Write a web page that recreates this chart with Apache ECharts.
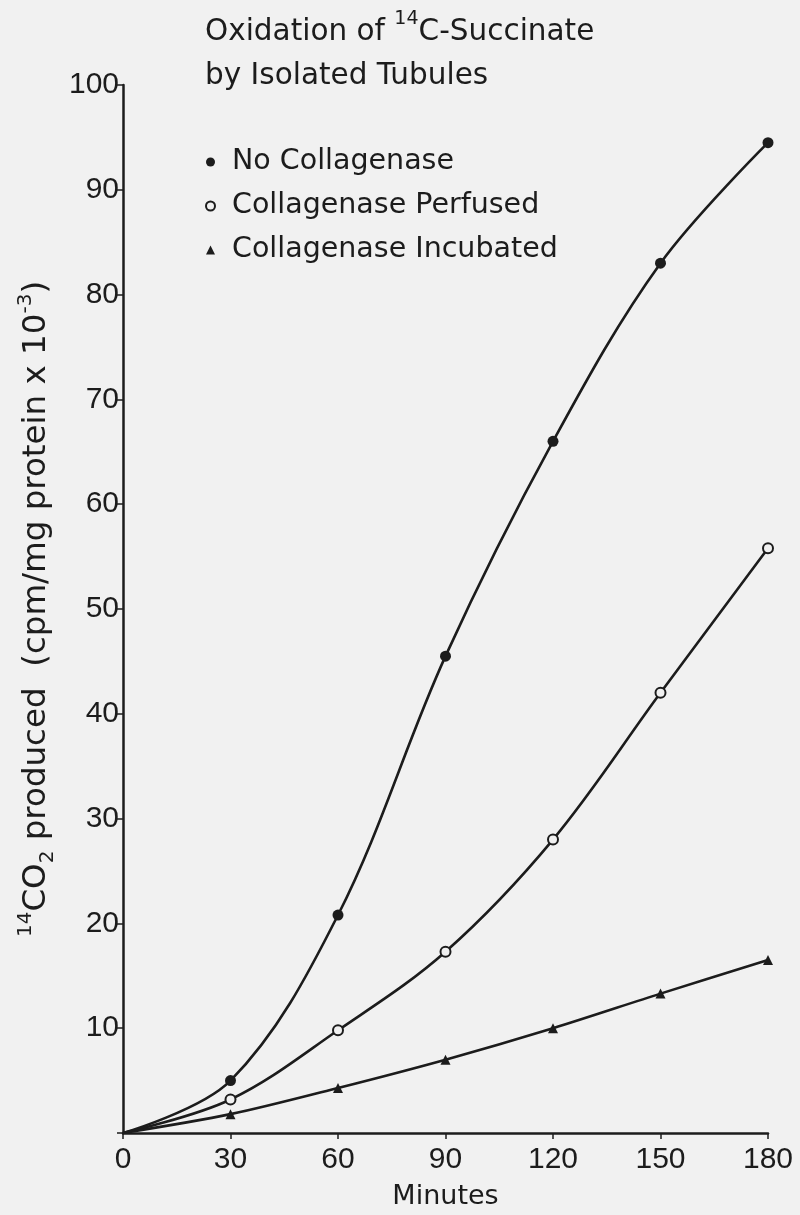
<!DOCTYPE html>
<html>
<head>
<meta charset="utf-8">
<script src="https://cdn.jsdelivr.net/npm/echarts@6/dist/echarts.min.js"></script>
<style>
html,body{margin:0;padding:0;background:#f1f1f1;}
#chart{width:800px;height:1215px;}
</style>
</head>
<body>
<div id="chart"></div>
<script>
// ---- data ----
var minutes = [0, 30, 60, 90, 120, 150, 180];
var noCollagenase = [0, 5.0, 20.8, 45.5, 66, 83, 94.5];
var collagenasePerfused = [0, 3.2, 9.8, 17.3, 28, 42, 55.8];
var collagenaseIncubated = [0, 1.8, 4.3, 7.0, 10.0, 13.3, 16.5];
var seriesNames = ['No Collagenase', 'Collagenase Perfused', 'Collagenase Incubated'];
var xTicks = [0, 30, 60, 90, 120, 150, 180];
var yTicks = [10, 20, 30, 40, 50, 60, 70, 80, 90, 100];

var FONT = "'DejaVu Sans', 'Liberation Sans', sans-serif";
var NUMFONT = "'Liberation Sans', Arial, sans-serif";
var INK = '#1c1c1c';
var BG = '#f1f1f1';

function pairs(ys) { return minutes.map(function (m, i) { return [m, ys[i]]; }); }
function sym(shape) {
  return function (v, p) { return p.dataIndex === 0 ? 'none' : shape; };
}

var chart = echarts.init(document.getElementById('chart'), null, {renderer: 'canvas'});
chart.setOption({
  backgroundColor: BG,
  animation: false,
  title: {
    left: 200, top: 5,
    text: 'Oxidation of {sup|14}C-Succinate\nby Isolated Tubules',
    textStyle: {
      fontFamily: FONT, fontSize: 29.5, fontWeight: 'normal', color: INK, lineHeight: 44,
      rich: {
        sup: {fontFamily: FONT, fontSize: 19, color: INK, verticalAlign: 'top', lineHeight: 30}
      }
    }
  },
  legend: {
    orient: 'vertical', left: 200, top: 140, itemGap: 10,
    itemWidth: 9, itemHeight: 9,
    textStyle: {fontFamily: FONT, fontSize: 28.5, color: INK, lineHeight: 34, padding: [0, 0, 0, 12]},
    data: [
      {name: seriesNames[0], icon: 'circle', itemStyle: {color: INK, borderWidth: 0}},
      {name: seriesNames[1], icon: 'circle', itemStyle: {color: BG, borderColor: INK, borderWidth: 2}},
      {name: seriesNames[2], icon: 'triangle', itemStyle: {color: INK, borderWidth: 0}}
    ]
  },
  grid: {left: 123, right: 32, top: 85, bottom: 75, containLabel: false},
  xAxis: {
    type: 'value', min: 0, max: 180, interval: 30,
    name: 'Minutes', nameLocation: 'middle', nameGap: 50,
    nameTextStyle: {fontFamily: FONT, fontSize: 27, color: INK},
    axisLine: {show: true, lineStyle: {color: INK, width: 2.5}},
    axisTick: {show: true, inside: false, length: 6, lineStyle: {color: INK, width: 1.5}},
    axisLabel: {fontFamily: NUMFONT, fontSize: 30, color: INK, margin: 12,
      formatter: function (v) { return xTicks.indexOf(v) >= 0 ? String(v) : ''; }},
    splitLine: {show: false}
  },
  yAxis: {
    type: 'value', min: 0, max: 100, interval: 10,
    name: '{sup|14}CO{sub|2} produced  (cpm/mg protein x 10{sup|-3})',
    nameLocation: 'middle', nameGap: 52, nameRotate: 90,
    nameTextStyle: {
      fontFamily: FONT, fontSize: 32.5, color: INK, lineHeight: 42,
      rich: {
        sup: {fontFamily: FONT, fontSize: 20, color: INK, verticalAlign: 'top', lineHeight: 28},
        sub: {fontFamily: FONT, fontSize: 20, color: INK, verticalAlign: 'bottom', lineHeight: 24}
      }
    },
    axisLine: {show: true, lineStyle: {color: INK, width: 2.5}},
    axisTick: {show: true, inside: false, length: 6, lineStyle: {color: INK, width: 1.5}},
    axisLabel: {fontFamily: NUMFONT, fontSize: 30, color: INK, margin: 4,
      formatter: function (v) { return yTicks.indexOf(v) >= 0 ? String(v) : ''; }},
    splitLine: {show: false}
  },
  series: [
    {
      name: seriesNames[0], type: 'line', smooth: 0.35,
      data: pairs(noCollagenase),
      symbol: sym('circle'), symbolSize: 11,
      lineStyle: {color: INK, width: 2.6},
      itemStyle: {color: INK, borderWidth: 0}
    },
    {
      name: seriesNames[1], type: 'line', smooth: 0.35,
      data: pairs(collagenasePerfused),
      symbol: sym('circle'), symbolSize: 10,
      lineStyle: {color: INK, width: 2.6},
      itemStyle: {color: BG, borderColor: INK, borderWidth: 2}
    },
    {
      name: seriesNames[2], type: 'line', smooth: 0.3,
      data: pairs(collagenaseIncubated),
      symbol: sym('triangle'), symbolSize: 10,
      lineStyle: {color: INK, width: 2.6},
      itemStyle: {color: INK, borderWidth: 0}
    }
  ]
});
</script>
</body>
</html>
